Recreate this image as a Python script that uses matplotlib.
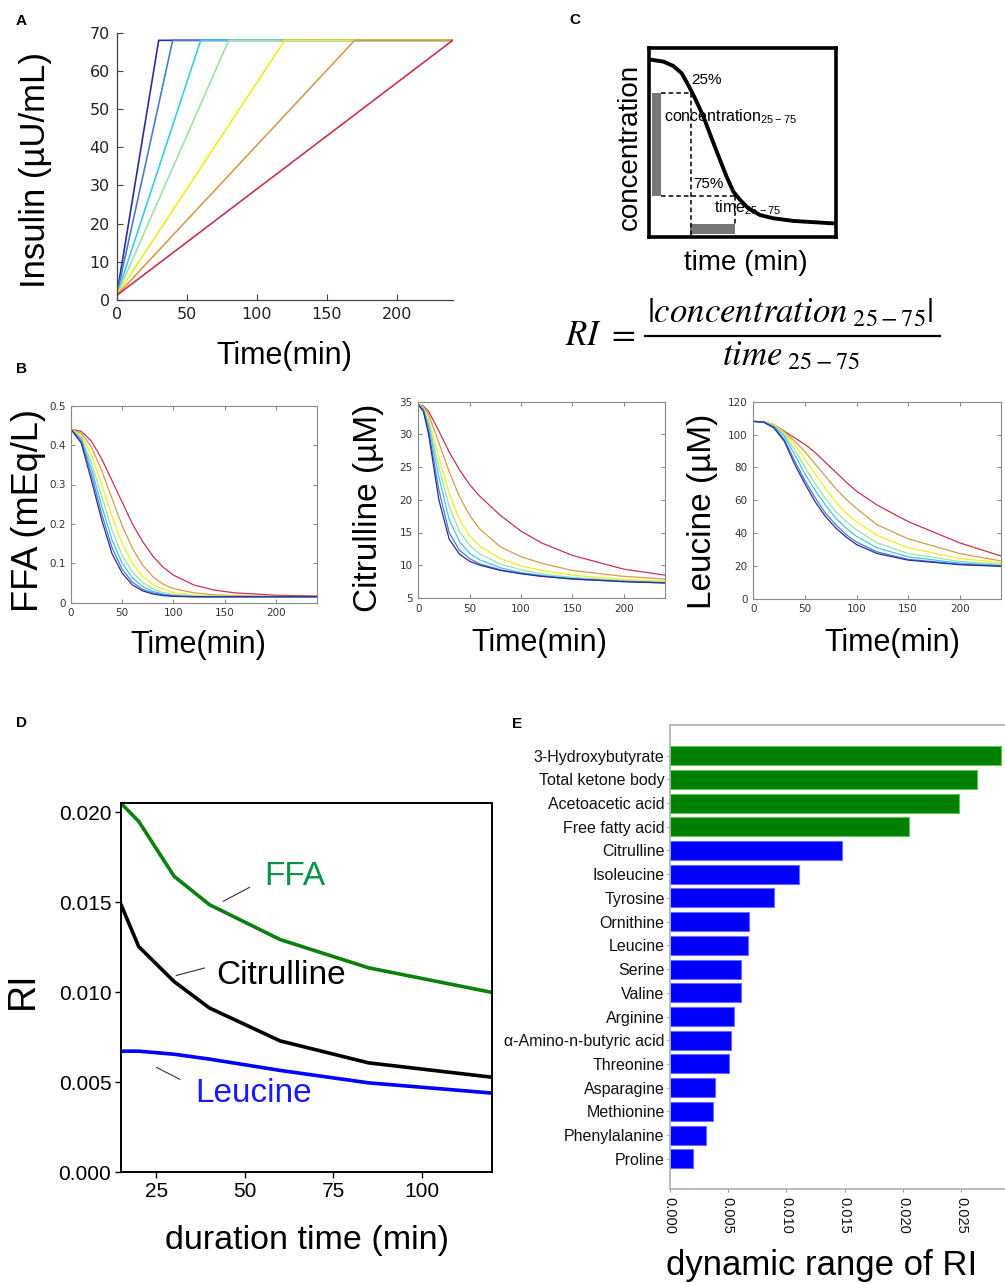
import matplotlib
matplotlib.use("Agg")
import matplotlib.pyplot as plt
from matplotlib.lines import Line2D

plt.rcParams['font.family'] = ['Liberation Sans', 'DejaVu Sans']

# ---------------- data ----------------
# A: insulin infusion, time at which each profile reaches the plateau
insulin_peak_time = [30, 40, 60, 80, 120, 170, 240]
insulin_start = 1.2
insulin_plateau = 68
time_end = 240
curve_colors = ['#2c2c9e', '#4b7bd1', '#3cc8ea', '#9fe0a4', '#f4ec1c', '#d99a4e', '#c8334a']

# B: simulated responses (one row per insulin profile, fastest first)
ffa_t = [0, 10, 20, 30, 40, 50, 60, 70, 80, 90, 100, 120, 140, 160, 200, 240]
ffa_curves = [
    [.44, .405, .31, .21, .125, .075, .045, .030, .022, .018, .016, .015, .015, .015, .015, .015],
    [.44, .41, .325, .225, .14, .085, .052, .034, .025, .020, .017, .015, .015, .015, .015, .015],
    [.44, .415, .34, .245, .16, .10, .063, .041, .029, .022, .018, .016, .015, .015, .015, .015],
    [.44, .42, .355, .27, .185, .12, .078, .051, .035, .026, .021, .017, .016, .015, .015, .015],
    [.44, .425, .375, .30, .22, .15, .10, .067, .046, .034, .026, .019, .017, .016, .015, .015],
    [.44, .43, .395, .335, .265, .195, .138, .095, .066, .047, .036, .025, .020, .018, .016, .016],
    [.44, .435, .41, .365, .31, .255, .20, .155, .118, .09, .07, .045, .032, .025, .019, .017],
]
cit_t = [0, 5, 10, 20, 30, 40, 50, 60, 80, 100, 120, 150, 200, 240]
cit_curves = [
    [34.5, 33.5, 30.0, 20.0, 14.0, 11.7, 10.6, 10.0, 9.2, 8.7, 8.3, 7.9, 7.5, 7.3],
    [34.5, 33.6, 30.6, 21.5, 15.0, 12.3, 11.0, 10.2, 9.3, 8.75, 8.35, 7.9, 7.5, 7.3],
    [34.5, 33.8, 31.3, 23.5, 17.0, 13.6, 11.8, 10.8, 9.6, 8.9, 8.45, 8.0, 7.55, 7.35],
    [34.5, 33.9, 31.8, 25.0, 19.0, 15.2, 13.0, 11.7, 10.2, 9.3, 8.7, 8.15, 7.65, 7.4],
    [34.5, 34.0, 32.3, 26.5, 21.0, 17.0, 14.5, 12.9, 11.0, 9.9, 9.2, 8.5, 7.85, 7.6],
    [34.5, 34.2, 33.0, 28.7, 24.3, 20.5, 17.6, 15.5, 12.8, 11.3, 10.3, 9.2, 8.3, 7.9],
    [34.5, 34.3, 33.5, 30.5, 27.3, 24.6, 22.3, 20.5, 17.6, 15.2, 13.4, 11.5, 9.4, 8.5],
]
leu_t = [0, 10, 20, 30, 40, 50, 60, 70, 80, 90, 100, 120, 150, 200, 240]
leu_curves = [
    [108, 107.5, 104, 96, 82, 70, 59, 50, 43, 37.5, 33, 27.5, 23.5, 20.7, 19.7],
    [108, 107.6, 104.5, 97, 84, 72, 61.5, 52, 45, 39, 34.5, 28.5, 24, 21, 20],
    [108, 107.7, 105, 99, 88, 76, 66, 57, 49, 43, 38, 31, 25.5, 21.7, 20.3],
    [108, 107.7, 105.5, 100, 91, 80, 70, 61, 53, 47, 42, 34, 27.5, 22.7, 21],
    [108, 107.8, 106, 101, 94, 85, 76, 67, 59, 52, 47, 38.5, 31, 24.5, 22],
    [108, 107.8, 106, 101.5, 96, 89.5, 82, 74.5, 67, 60.5, 55, 45, 36.5, 27.5, 23],
    [108, 107.8, 106, 102, 98, 94, 89, 83, 77, 71, 65.5, 57, 47, 34, 26],
]

# C: schematic decay curve (axes fraction)
sketch_x = [0.018, 0.077, 0.130, 0.175, 0.210, 0.246, 0.291, 0.335, 0.380, 0.415, 0.451,
            0.487, 0.531, 0.594, 0.665, 0.772, 0.986]
sketch_y = [0.937, 0.928, 0.905, 0.866, 0.804, 0.734, 0.637, 0.522, 0.407, 0.319, 0.240,
            0.196, 0.152, 0.116, 0.099, 0.085, 0.072]
lvl_25, lvl_75 = 0.764, 0.217
t_25, t_75 = 0.223, 0.46

# D: RI vs duration time
duration = [15, 20, 30, 40, 60, 85, 120]
ri_ffa = [0.0205, 0.0195, 0.01645, 0.01487, 0.01293, 0.01136, 0.00999]
ri_cit = [0.01487, 0.01254, 0.0106, 0.00913, 0.0073, 0.00608, 0.00528]
ri_leu = [0.00673, 0.00673, 0.00656, 0.00629, 0.00566, 0.00497, 0.0044]

# E: dynamic range of RI
metabolites = ['3-Hydroxybutyrate', 'Total ketone body', 'Acetoacetic acid', 'Free fatty acid',
               'Citrulline', 'Isoleucine', 'Tyrosine', 'Ornithine', 'Leucine', 'Serine', 'Valine',
               'Arginine', 'α-Amino-n-butyric acid', 'Threonine', 'Asparagine', 'Methionine',
               'Phenylalanine', 'Proline']
dyn_range = [0.02841, 0.02635, 0.02481, 0.0205, 0.01481, 0.01113, 0.00896, 0.00684, 0.00676,
             0.00616, 0.00613, 0.00556, 0.00524, 0.00507, 0.00387, 0.0037, 0.00316, 0.00201]
n_lipid = 4

# ---------------- layout helpers (pixel positions) ----------------
W, H = 1005, 1284
fig = plt.figure(figsize=(W / 100, H / 100), dpi=100)


def rect(l, t, r, b):
    return [l / W, 1 - b / H, (r - l) / W, (b - t) / H]


def ftext(x, y, s, **kw):
    return fig.text(x / W, 1 - y / H, s, **kw)


def panel_label(x, y, s):
    ftext(x, y, s, fontsize=11, fontweight='bold', ha='center', va='center')


# ---------------- A ----------------
axA = fig.add_axes(rect(116.7, 32.7, 452.7, 300))
for tp, c in zip(insulin_peak_time, curve_colors):
    axA.plot([0, tp, time_end], [insulin_start, insulin_plateau, insulin_plateau], color=c, lw=1.2)
axA.set_xlim(0, 240)
axA.set_ylim(0, 70)
axA.set_xticks([0, 50, 100, 150, 200])
axA.set_yticks(range(0, 71, 10))
for s in ['top', 'right']:
    axA.spines[s].set_visible(False)
for s in ['left', 'bottom']:
    axA.spines[s].set_color('#444444')
    axA.spines[s].set_linewidth(0.9)
axA.tick_params(direction='in', length=4, color='#444444', labelsize=11.5, labelcolor='#222222', pad=5)
for lb in axA.get_xticklabels() + axA.get_yticklabels():
    lb.set_family('DejaVu Sans')
ftext(35, 170, 'Insulin (µU/mL)', fontsize=25, rotation=90, ha='center', va='center')
ftext(284, 356, 'Time(min)', fontsize=22, ha='center', va='center')
panel_label(21, 21, 'A')

# ---------------- B ----------------
b_specs = [
    (rect(71, 405.7, 316.7, 602.7), ffa_t, ffa_curves, (0, 0.5),
     [0, 0.1, 0.2, 0.3, 0.4, 0.5], ['0', '0.1', '0.2', '0.3', '0.4', '0.5'],
     'FFA (mEq/L)', 26, (28, 510), (198, 645)),
    (rect(418.3, 401.5, 665, 598), cit_t, cit_curves, (5, 35),
     [5, 10, 15, 20, 25, 30, 35], None,
     'Citrulline (µM)', 24, (368, 508), (539, 643)),
    (rect(753.3, 401.7, 1001, 598.7), leu_t, leu_curves, (0, 120),
     [0, 20, 40, 60, 80, 100, 120], None,
     'Leucine (µM)', 24, (702, 511), (892, 643)),
]
for r, tt, curves, ylim, yt, ytl, ylab, ysz, ypos, xpos in b_specs:
    ax = fig.add_axes(r)
    for vals, c in zip(curves[::-1], curve_colors[::-1]):
        ax.plot(tt, vals, color=c, lw=0.9)
    ax.set_xlim(0, 240)
    ax.set_ylim(*ylim)
    ax.set_xticks([0, 50, 100, 150, 200])
    if ytl is None:
        ax.set_yticks(yt)
    else:
        ax.set_yticks(yt, ytl)
    for s in ax.spines.values():
        s.set_color('#8a8a8a')
        s.set_linewidth(0.8)
    ax.tick_params(direction='in', length=3, color='#8a8a8a', labelsize=7.5,
                   labelcolor='#333333', pad=4, top=True, right=True)
    for lb in ax.get_xticklabels() + ax.get_yticklabels():
        lb.set_family('DejaVu Sans')
    ftext(ypos[0], ypos[1], ylab, fontsize=ysz, rotation=90, ha='center', va='center')
    ftext(xpos[0], xpos[1], 'Time(min)', fontsize=22, ha='center', va='center')
panel_label(21, 369, 'B')

# ---------------- C ----------------
axC = fig.add_axes(rect(649, 48, 836, 237))
axC.set_xlim(0, 1)
axC.set_ylim(0, 1)
axC.set_xticks([])
axC.set_yticks([])
for s in axC.spines.values():
    s.set_linewidth(2.6)
axC.plot(sketch_x, sketch_y, color='black', lw=2.8, solid_joinstyle='round')
axC.fill_between([0.014, 0.062], lvl_75, lvl_25, color='#777777', lw=0)
axC.fill_between([t_25 - 0.004, t_75], 0.014, 0.069, color='#777777', lw=0)
dash = dict(color='black', lw=1.1, ls=(0, (3, 2)))
axC.plot([0.062, t_25], [lvl_25, lvl_25], **dash)
axC.plot([0.062, t_75], [lvl_75, lvl_75], **dash)
axC.plot([t_25, t_25], [lvl_25, 0.0], **dash)
axC.plot([t_75, t_75], [lvl_75, 0.069], **dash)
axC.text(0.228, 0.83, '25%', fontsize=11, va='center', ha='left')
axC.text(0.08, 0.637, r'concentration$_{\mathregular{25-75}}$', fontsize=11.5, va='center', ha='left')
axC.text(0.238, 0.28, '75%', fontsize=11, va='center', ha='left')
axC.text(0.35, 0.153, r'time$_{\mathregular{25-75}}$', fontsize=11.5, va='center', ha='left')
ftext(630, 147, 'concentration', fontsize=20, rotation=90, ha='center', va='center')
ftext(746, 263, 'time (min)', fontsize=20, ha='center', va='center')
panel_label(575, 20, 'C')

# formula
ftext(565, 345, r'$RI\ =$', fontsize=25, math_fontfamily='stix', ha='left', va='baseline')
ftext(647, 322, r'$|concentration_{\ 25-75}|$', fontsize=25, math_fontfamily='stix',
      ha='left', va='baseline')
ftext(722, 365, r'$time_{\ 25-75}$', fontsize=25, math_fontfamily='stix', ha='left', va='baseline')
fig.add_artist(Line2D([645 / W, 940 / W], [1 - 336 / H, 1 - 336 / H], color='black', lw=1.6))

# ---------------- D ----------------
axD = fig.add_axes(rect(121, 803.3, 492.3, 1172.3))
axD.plot(duration, ri_ffa, color='#0b800b', lw=2.6)
axD.plot(duration, ri_cit, color='black', lw=2.6)
axD.plot(duration, ri_leu, color='#0000ff', lw=2.6)
axD.set_xlim(15, 120)
axD.set_ylim(0, 0.0205)
axD.set_xticks([25, 50, 75, 100])
axD.set_yticks([0, 0.005, 0.010, 0.015, 0.020], ['0.000', '0.005', '0.010', '0.015', '0.020'])
for s in axD.spines.values():
    s.set_linewidth(1.4)
axD.tick_params(direction='out', length=4, width=1.0, labelsize=15, pad=3)
line_kw = dict(arrowprops=dict(arrowstyle='-', color='#333333', lw=0.8))
axD.annotate('', xy=(43.2, 0.01498), xytext=(52.1, 0.01591), **line_kw)
axD.annotate('', xy=(29.8, 0.01089), xytext=(39.4, 0.01139), **line_kw)
axD.annotate('', xy=(24.3, 0.00590), xytext=(32.4, 0.00509), **line_kw)
axD.text(64.2, 0.01646, 'FFA', color='#0a9347', fontsize=24, ha='center', va='center')
axD.text(60.2, 0.01093, 'Citrulline', color='black', fontsize=24, ha='center', va='center')
axD.text(52.6, 0.00436, 'Leucine', color='#1a1aff', fontsize=24, ha='center', va='center')
ftext(23, 990, 'RI', fontsize=27, rotation=90, ha='center', va='center')
ftext(307, 1241, 'duration time (min)', fontsize=24.5, ha='center', va='center')
panel_label(21, 723, 'D')

# ---------------- E ----------------
axE = fig.add_axes(rect(669.5, 725, 1005, 1189))
pos = list(range(len(metabolites)))
face = ['#008000'] * n_lipid + ['#0000ff'] * (len(metabolites) - n_lipid)
edge = ['#5cc25c'] * n_lipid + ['#6a6aff'] * (len(metabolites) - n_lipid)
axE.barh(pos, dyn_range, height=0.8, color=face, edgecolor=edge, linewidth=0.8)
axE.set_ylim(len(metabolites) - 1 + 1.27, -1.29)
axE.set_xlim(0, 0.02875)
axE.set_yticks(pos, metabolites)
axE.set_xticks([0, 0.005, 0.010, 0.015, 0.020, 0.025],
               ['0.000', '0.005', '0.010', '0.015', '0.020', '0.025'], rotation=270)
axE.spines['right'].set_visible(False)
for s in ['left', 'bottom', 'top']:
    axE.spines[s].set_color('#b0b0b0')
    axE.spines[s].set_linewidth(1.2)
axE.tick_params(axis='y', length=2.5, color='#999999', labelsize=11.5, pad=1, labelcolor='#111111')
axE.tick_params(axis='x', length=2.5, color='#999999', labelsize=10.5, pad=3, labelcolor='#111111')
ftext(822, 1266, 'dynamic range of RI', fontsize=25, ha='center', va='center')
panel_label(517, 724, 'E')

fig.savefig('out.png', dpi=100)
